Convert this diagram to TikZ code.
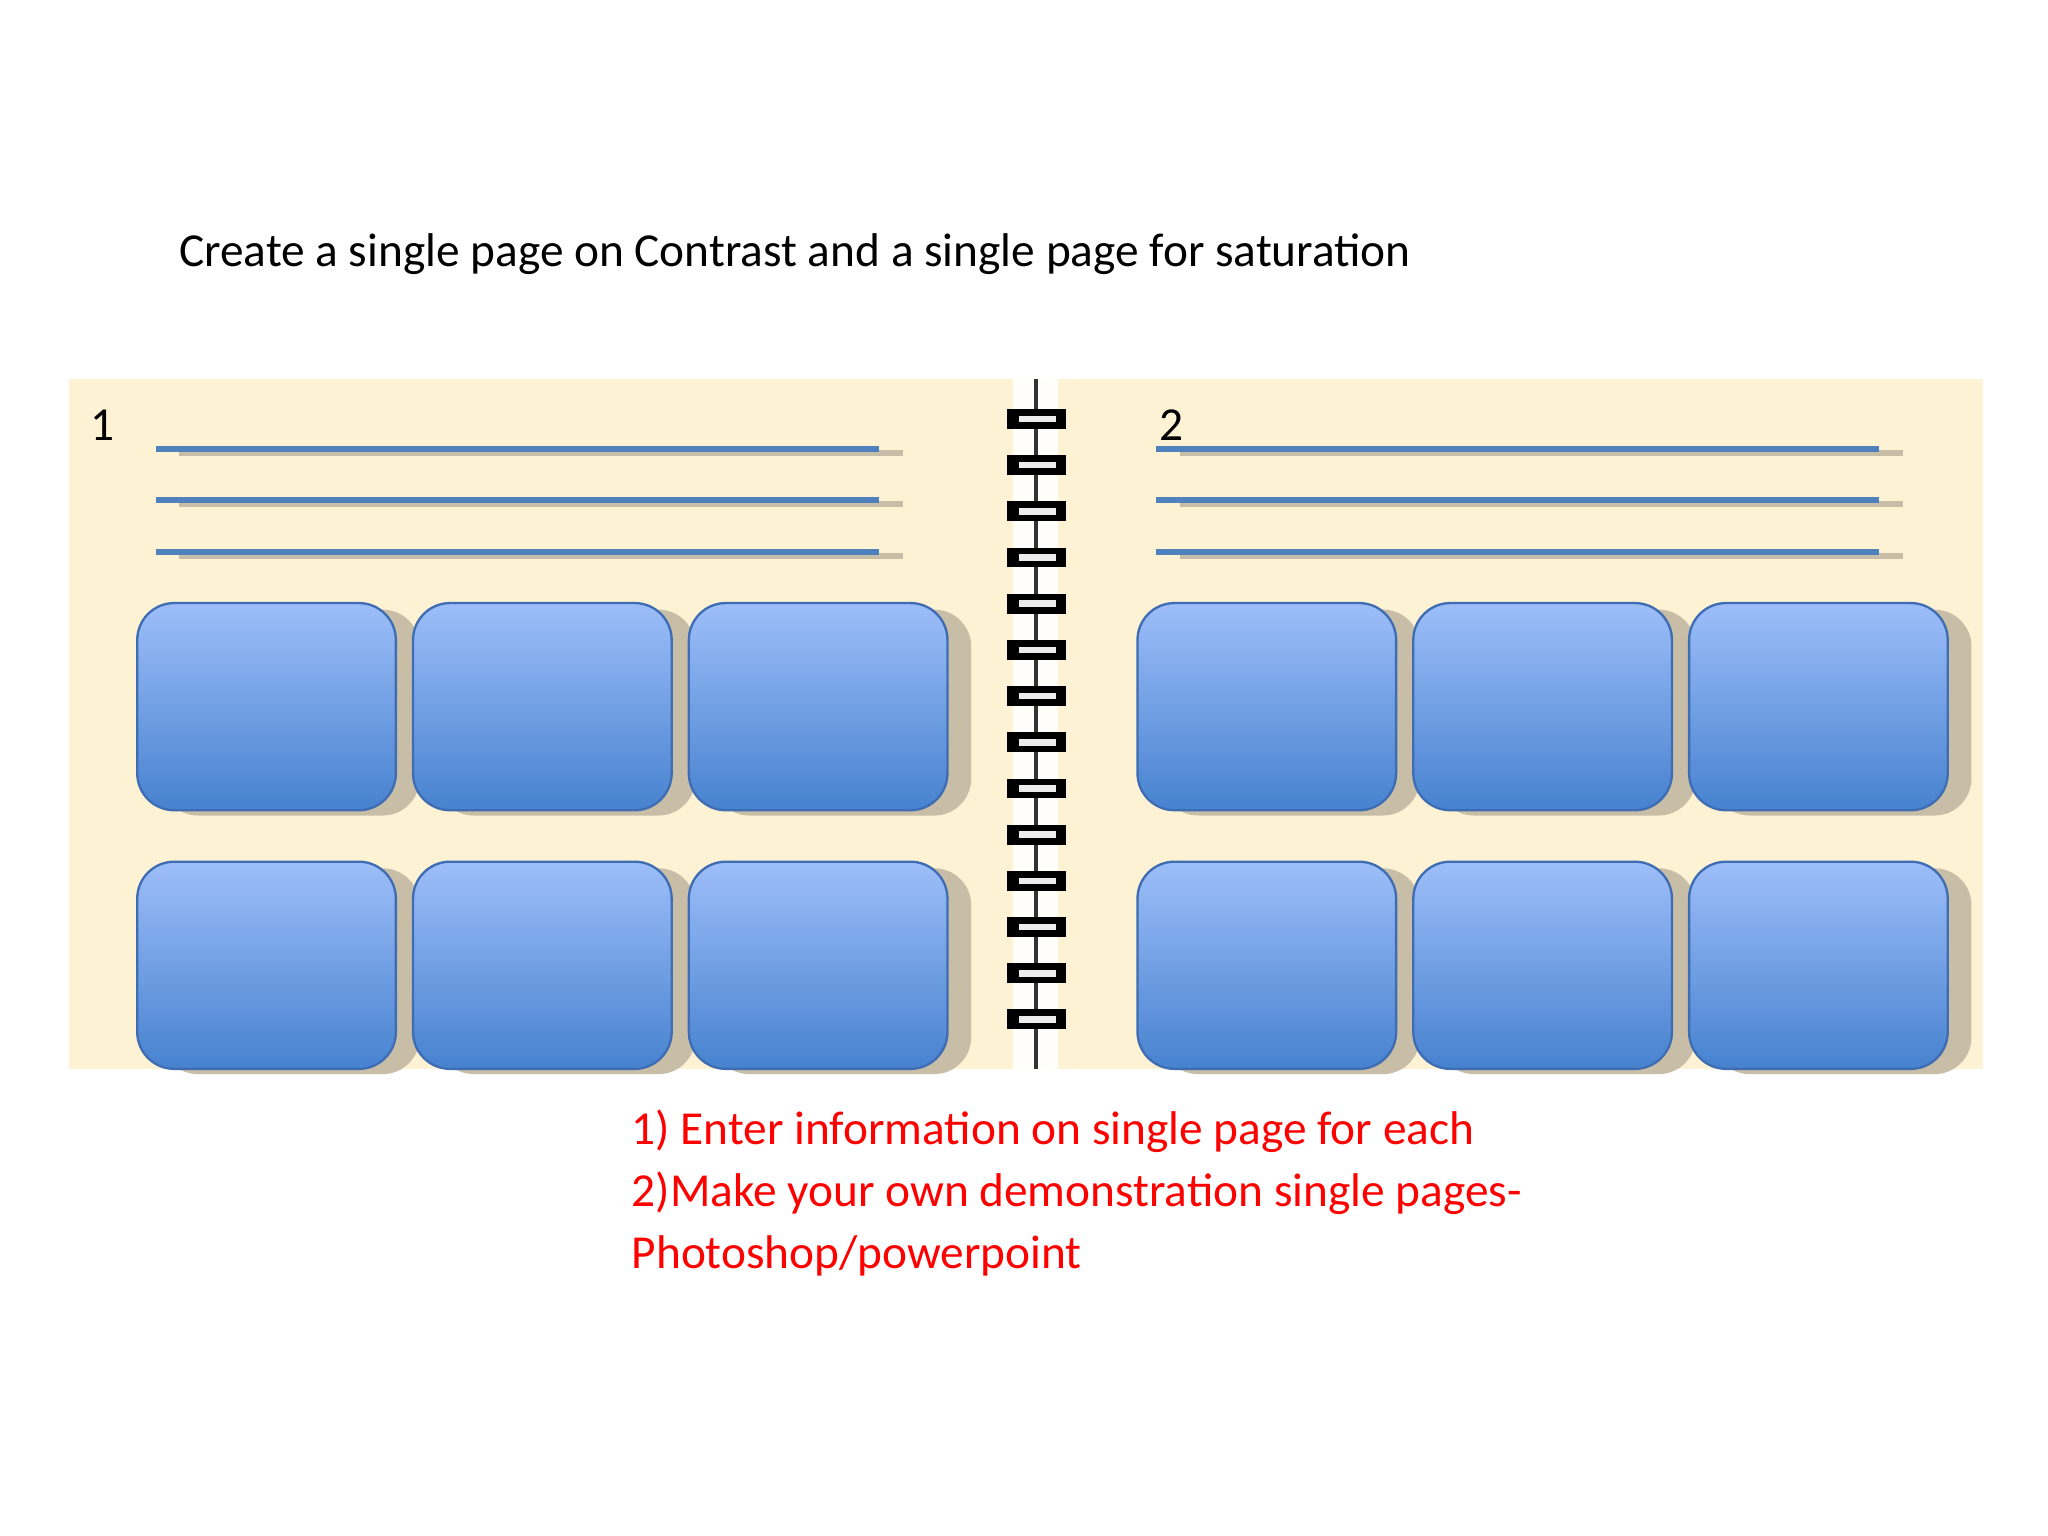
\documentclass[tikz,border=0pt]{standalone}
\usepackage{fontspec}
\setmainfont{Carlito}
\definecolor{paper}{HTML}{FDF2D3}
\definecolor{lblue}{HTML}{4F81BD}
\definecolor{btop}{HTML}{9DBEF9}
\definecolor{bbot}{HTML}{4782CF}
\definecolor{bline}{HTML}{3E6DB3}
\definecolor{shad}{HTML}{C8BEA8}
\begin{document}
\begin{tikzpicture}[x=0.01cm,y=-0.01cm,
  txt/.style={font=\fontsize{10.2pt}{13.4pt}\selectfont,inner sep=0pt,anchor=base west},
  pane/.style={rounded corners=0.28cm,top color=btop,bottom color=bbot,draw=bline,line width=0.5pt},
  paneshadow/.style={rounded corners=0.28cm,fill=shad},
  rule/.style={lblue,line width=1.3pt},
  ruleshadow/.style={shad,line width=1.3pt},
  ring/.style={fill=black,draw=black},
  slot/.style={fill=white!90!gray}]
\useasboundingbox (0,0) rectangle (1552,1164);
\fill[white] (0,0) rectangle (1552,1164);
\node[txt] (title) at (135,202) {Create a single page on Contrast and a single page for saturation};
\fill[paper] (52,287) rectangle (1503,810);
\node[txt] (n1) at (68,334) {1};
\node[txt] (n2) at (878,334) {2};
\foreach \x in {118,876}{
  \foreach \y in {340,379,418}{
    \draw[ruleshadow] (\x+18,\y+3) -- (\x+566,\y+3);
    \draw[rule] (\x,\y) -- (\x+548,\y);
  }}
\foreach \x in {104,313,522,862,1071,1280}{
  \foreach \y in {457,653}{
    \fill[paneshadow] (\x+18,\y+5) rectangle (\x+214,\y+161);
    \draw[pane] (\x,\y) rectangle (\x+196,\y+157);
  }}
\fill[white!92!paper] (768,287) rectangle (802,810);
\draw[black!80,line width=0.8pt] (785,287) -- (785,810);
\foreach \i in {0,...,13}{
  \pgfmathsetmacro{\yy}{317+35*\i}
  \fill[black] (763,\yy-7) rectangle (808,\yy+8);
  \fill[white!85!gray] (772,\yy-2) rectangle (800,\yy+3);
}
\node[txt,red] (l1) at (478,867) {1) Enter information on single page for each};
\node[txt,red] (l2) at (478,914) {2)Make your own demonstration single pages-};
\node[txt,red] (l3) at (478,961) {Photoshop/powerpoint};
\end{tikzpicture}
\end{document}
